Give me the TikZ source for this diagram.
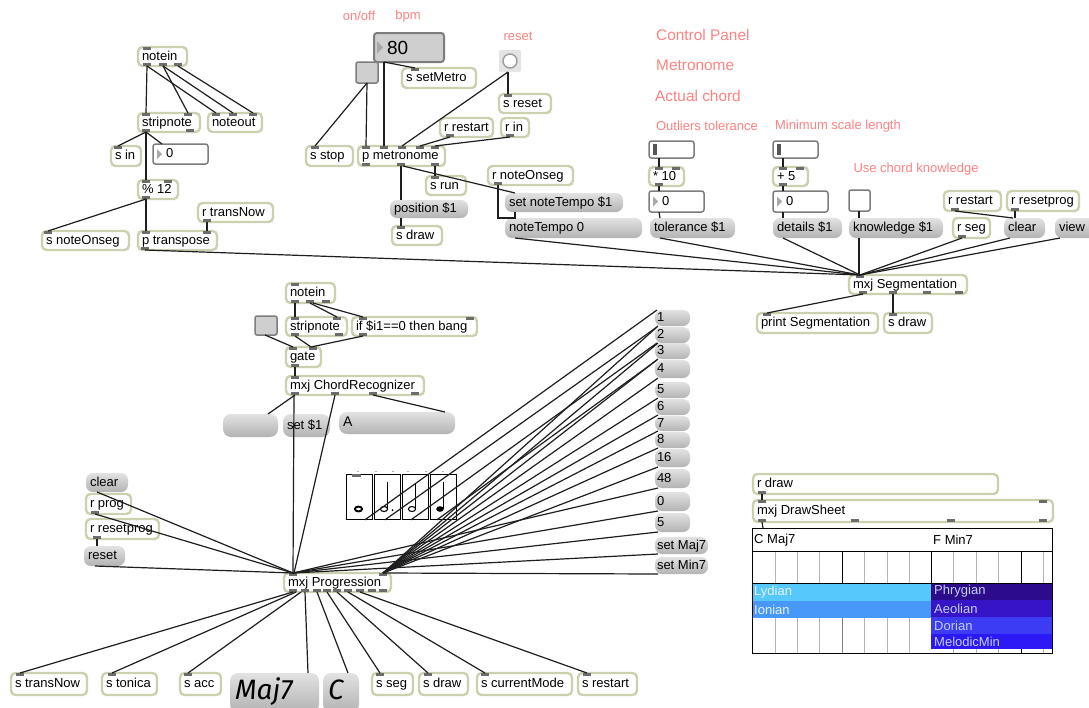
\documentclass[tikz,border=0pt]{standalone}
\usepackage{fontspec}
\setmainfont{Liberation Sans}
\newfontfamily\bigfont{Fira Sans}
\usetikzlibrary{calc}

\definecolor{objc}{HTML}{C9D1AF}
\definecolor{msgtop}{HTML}{E2E2E2}
\definecolor{msgbot}{HTML}{B3B3B3}
\definecolor{numc}{HTML}{7D7D7D}
\definecolor{togc}{HTML}{CFCFCF}
\definecolor{bangc}{HTML}{E4E4E4}
\definecolor{wirec}{HTML}{1E1E1E}
\definecolor{tabc}{HTML}{6C6C6C}
\definecolor{notec}{HTML}{FF8282}
\definecolor{tric}{HTML}{A8A8A8}
\definecolor{gridc}{HTML}{B4B4B4}
\definecolor{lyd}{HTML}{56C8FC}
\definecolor{ion}{HTML}{4898FA}
\definecolor{phr}{HTML}{2D0C8C}
\definecolor{aeo}{HTML}{3714C8}
\definecolor{dor}{HTML}{3C3CF5}
\definecolor{mel}{HTML}{2D19F5}
\definecolor{bandtxt}{HTML}{E6F2FF}

\tikzset{
  base/.style={inner xsep=4pt, inner ysep=0pt, outer sep=0pt,
    text height=9.5pt, text depth=2.5pt, font=\fontsize{13}{15}\selectfont},
  obj/.style={base, draw=objc, line width=2.4pt, fill=white, rounded corners=4.5pt},
  msg/.style={base, top color=msgtop, bottom color=msgbot, rounded corners=7pt},
  numb/.style={base, draw=numc, line width=1.5pt, fill=white, rounded corners=2.5pt},
  tog/.style={base, draw=numc, line width=1.5pt, fill=togc, rounded corners=2pt},
  bangbox/.style={base, fill=bangc, rounded corners=2pt},
  pict/.style={draw=black, line width=0.8pt, fill=white, inner sep=0pt,
    minimum width=26pt, minimum height=45pt, anchor=north west},
  wire/.style={draw=wirec, line width=1.2pt},
  note/.style={font=\fontsize{13}{15}\selectfont, text=notec, inner sep=0pt},
  bignote/.style={font=\fontsize{15.4}{17}\selectfont, text=notec, inner sep=0pt, anchor=west},
  band/.style={font=\fontsize{13}{15}\selectfont, inner sep=0pt, anchor=west},
}

% box: style, name, x1, y1, x2, y2, text
\newcommand\mxbox[7]{%
  \pgfmathsetmacro\mxw{#5-#3}%
  \pgfmathsetmacro\mxh{#6-#4}%
  \pgfmathsetmacro\mxt{#5-#3-8}%
  \node[#1, anchor=north west, minimum width=\mxw pt, minimum height=\mxh pt]
    (#2) at (#3,#4) {\makebox[\mxt pt][l]{#7}};}
% patch cord from an outlet to an inlet
\newcommand\wire[4]{\draw[wire] ($(#1.south west)+(#2,0)$) -- ($(#3.north west)+(#4,0)$);}
% inlet and outlet tabs
\newcommand\inports[2]{\foreach \d in {#2}{\fill[tabc] ($(#1.north west)+(\d-4,0)$) rectangle ++(8,3);}}
\newcommand\outports[2]{\foreach \d in {#2}{\fill[tabc] ($(#1.south west)+(\d-4,-3)$) rectangle ++(8,3);}}
% number box arrow
\newcommand\numtri[3]{\fill[tric] ($(#1.west)+(#2,-#3)$) -- ($(#1.west)+(#2,#3)$) -- ($(#1.west)+(#2+#3,0)$) -- cycle;}

\begin{document}
\begin{tikzpicture}[x=1pt,y=-1pt]
\useasboundingbox (0,0) rectangle (1089,707);
\clip (0,0) rectangle (1089,707);
\fill[white] (0,0) rectangle (1089,707);

% ---------- comments ----------
\node[note] (lonoff) at (359,16) {on/off};
\node[note] (lbpm) at (408,16) {bpm};
\node[note] (lreset) at (518,36) {reset};
\node[bignote] (lcp) at (656,35) {Control Panel};
\node[bignote] (lmet) at (656,65) {Metronome};
\node[bignote] (lact) at (655,96) {Actual chord};
\node[note] (lout) at (707,126) {Outliers tolerance};
\node[note] (lmin) at (838,126) {Minimum scale length};
\node[note] (luse) at (916,169) {Use chord knowledge};

% ---------- note input ----------
\mxbox{obj}{noteinA}{138}{47}{187}{66}{notein}
\mxbox{obj}{stripA}{138}{113}{200}{132}{stripnote}
\mxbox{obj}{noteout}{208}{113}{262}{132}{noteout}
\mxbox{obj}{sin}{111}{146}{141}{166}{s in}
\mxbox{numb}{numA}{153}{144}{208}{164}{\hspace{9pt}0}
\numtri{numA}{4}{5}
\mxbox{obj}{modtw}{138}{180}{178}{199}{\% 12}
\mxbox{obj}{rtransNow}{198}{203}{273}{222}{r transNow}
\mxbox{obj}{snoteOnseg}{42}{231}{129}{250}{s noteOnseg}
\mxbox{obj}{ptranspose}{138}{231}{217}{250}{p transpose}

% ---------- metronome ----------
\mxbox{numb, fill=togc, line width=2pt, rounded corners=3pt, font=\fontsize{19}{21}\selectfont, text height=14pt, text depth=1pt}{numbpm}{374}{33}{444}{62}{\hspace{9pt}80}
\numtri{numbpm}{3}{6}
\mxbox{tog}{togmet}{356}{62}{378}{83}{}
\mxbox{obj}{ssetMetro}{402}{68}{476}{88}{s setMetro}
\mxbox{bangbox}{bangreset}{499}{50}{521}{72}{}
\draw[draw=gray!75, line width=1.5pt, fill=white] (bangreset.center) circle (7);
\mxbox{obj}{sreset}{499}{94}{551}{113}{s reset}
\mxbox{obj}{rrestartA}{440}{118}{493}{137}{r restart}
\mxbox{obj}{rin}{501}{118}{529}{137}{r in}
\mxbox{obj}{sstop}{306}{146}{353}{166}{s stop}
\mxbox{obj}{pmetro}{358}{146}{445}{166}{p metronome}
\mxbox{obj}{srun}{426}{176}{466}{195}{s run}
\mxbox{obj}{rnoteOnseg}{488}{166}{573}{185}{r noteOnseg}
\mxbox{msg}{setnoteTempo}{505}{193}{623}{212}{set noteTempo \$1}
\mxbox{msg}{noteTempo}{505}{218}{642}{238}{noteTempo 0}
\mxbox{msg}{position}{390}{200}{468}{218}{position \$1}
\mxbox{obj}{sdrawA}{392}{226}{442}{245}{s draw}

% ---------- segmentation controls ----------
\mxbox{numb}{slidA}{649}{141}{694}{158}{}
\fill[tabc!80!black] ($(slidA.north west)+(4,3)$) rectangle ($(slidA.south west)+(8,-3)$);
\mxbox{obj}{multten}{649}{167}{684}{186}{* 10}
\mxbox{numb}{numtol}{649}{191}{704}{212}{\hspace{9pt}0}
\numtri{numtol}{4}{5}
\mxbox{msg}{tolerance}{650}{218}{735}{238}{tolerance \$1}
\mxbox{numb}{slidB}{773}{141}{818}{158}{}
\fill[tabc!80!black] ($(slidB.north west)+(4,3)$) rectangle ($(slidB.south west)+(8,-3)$);
\mxbox{obj}{plusfive}{773}{167}{808}{186}{+ 5}
\mxbox{numb}{numdet}{773}{191}{828}{212}{\hspace{9pt}0}
\numtri{numdet}{4}{5}
\mxbox{msg}{details}{773}{218}{842}{238}{details \$1}
\mxbox{tog, fill=white}{togknow}{849}{190}{870}{211}{}
\mxbox{msg}{knowledge}{849}{218}{943}{238}{knowledge \$1}
\mxbox{obj}{rrestartB}{944}{191}{1001}{211}{r restart}
\mxbox{obj}{rresetprogA}{1007}{191}{1079}{211}{r resetprog}
\mxbox{obj}{rseg}{953}{218}{990}{238}{r seg}
\mxbox{msg}{clearA}{1004}{218}{1045}{238}{clear}
\mxbox{msg}{view}{1055}{218}{1100}{238}{view}
\mxbox{obj}{mxjSeg}{849}{275}{967}{294}{mxj Segmentation}
\mxbox{obj}{printSeg}{757}{313}{878}{333}{print Segmentation}
\mxbox{obj}{sdrawB}{884}{313}{932}{333}{s draw}

% ---------- chord recognition ----------
\mxbox{obj}{noteinB}{286}{283}{335}{303}{notein}
\mxbox{tog}{toggate}{255}{316}{277}{335}{}
\mxbox{obj}{stripB}{286}{317}{347}{336}{stripnote}
\mxbox{obj}{ifbang}{352}{317}{477}{336}{if \$i1==0 then bang}
\mxbox{obj}{gate}{286}{347}{321}{367}{gate}
\mxbox{obj}{chordrec}{286}{376}{424}{395}{mxj ChordRecognizer}
\mxbox{msg, rounded corners=8pt}{emptymsg}{223}{414}{278}{437}{}
\mxbox{msg, rounded corners=8pt}{setone}{283}{414}{330}{437}{set \$1}
\mxbox{msg, rounded corners=8pt, font=\fontsize{14}{16}\selectfont}{amsg}{339}{412}{455}{434}{A}

% ---------- note value pictures ----------
\node[pict] (pictA) at (346,474) {};
\node[pict] (pictB) at (374,474) {};
\node[pict] (pictC) at (402,474) {};
\node[pict] (pictD) at (430,474) {};
\fill[tabc] (352,474) rectangle (361,477);
\foreach \tx in {357,375,392,407,425,442} {\fill[gray!60] (\tx,471) rectangle ++(2,1);}
\draw[line width=1.9pt] (358.5,509) ellipse [x radius=3.6, y radius=2.4];
\draw[line width=1.1pt] (384,509) ellipse [x radius=3.6, y radius=2.5];
\draw[line width=0.8pt] (387.8,509) -- (387.8,482);
\fill (392.5,510) circle (1);
\draw[line width=1.1pt] (412,509) ellipse [x radius=3.6, y radius=2.5];
\draw[line width=0.8pt] (415.8,509) -- (415.8,483);
\fill (440,509) ellipse [x radius=3.8, y radius=2.8];
\draw[line width=0.8pt] (443.6,509) -- (443.6,482);

% ---------- progression inputs ----------
\mxbox{msg}{clearB}{86}{473}{128}{492}{clear}
\mxbox{obj}{rprog}{86}{494}{131}{514}{r prog}
\mxbox{obj}{rresetprogB}{86}{519}{159}{539}{r resetprog}
\mxbox{msg}{resetmsg}{84}{546}{125}{566}{reset}

\mxbox{msg}{mone}{655}{310}{690}{326}{\hspace{-2pt}1}
\mxbox{msg}{mtwo}{655}{327}{690}{343}{\hspace{-2pt}2}
\mxbox{msg}{mthree}{655}{343}{690}{359}{\hspace{-2pt}3}
\mxbox{msg}{mfour}{655}{360}{690}{378}{\hspace{-2pt}4}
\mxbox{msg}{mfive}{655}{382}{690}{398}{\hspace{-2pt}5}
\mxbox{msg}{msix}{655}{399}{690}{415}{\hspace{-2pt}6}
\mxbox{msg}{mseven}{655}{416}{690}{431}{\hspace{-2pt}7}
\mxbox{msg}{meight}{655}{432}{690}{448}{\hspace{-2pt}8}
\mxbox{msg}{msixteen}{655}{449}{690}{467}{\hspace{-2pt}16}
\mxbox{msg}{mfortyeight}{655}{469}{690}{488}{\hspace{-2pt}48}
\mxbox{msg}{mzero}{655}{492}{690}{511}{\hspace{-2pt}0}
\mxbox{msg}{mfiveb}{655}{513}{690}{532}{\hspace{-2pt}5}
\mxbox{msg}{setmaj}{655}{537}{708}{554}{\hspace{-2pt}set Maj7}
\mxbox{msg}{setmin}{655}{557}{708}{574}{\hspace{-2pt}set Min7}

\mxbox{obj}{mxjProg}{284}{573}{391}{592}{mxj Progression}

% ---------- progression outputs ----------
\mxbox{obj}{stransNow}{11}{673}{87}{695}{s transNow}
\mxbox{obj}{stonica}{102}{673}{157}{695}{s tonica}
\mxbox{obj}{sacc}{180}{673}{221}{695}{s acc}
\mxbox{msg, rounded corners=8pt, font={\bigfont\itshape\fontsize{28}{30}\selectfont}, text height=20pt, text depth=6pt, inner xsep=5pt}{majbox}{230}{673}{317}{712}{Maj7}
\mxbox{msg, rounded corners=8pt, font={\bigfont\itshape\fontsize{28}{30}\selectfont}, text height=20pt, text depth=6pt, inner xsep=5pt}{cbox}{323}{673}{357}{712}{C}
\mxbox{obj}{sseg}{372}{673}{413}{695}{s seg}
\mxbox{obj}{sdrawC}{419}{673}{468}{695}{s draw}
\mxbox{obj}{scurrentMode}{477}{673}{572}{695}{s currentMode}
\mxbox{obj}{srestart}{578}{673}{637}{695}{s restart}

% ---------- sheet drawing ----------
\mxbox{obj}{rdraw}{753}{474}{998}{494}{r draw}
\mxbox{obj}{drawsheet}{753}{500}{1053}{522}{mxj DrawSheet}
\node[draw=black, line width=0.9pt, fill=white, inner sep=0pt, anchor=north west,
      minimum width=300pt, minimum height=125pt] (sheet) at (752,528) {};
\fill[lyd] (752,583) rectangle (931,601);
\fill[ion] (752,601) rectangle (931,618);
\fill[phr] (931,583) rectangle (1052,600);
\fill[aeo] (931,600) rectangle (1052,617);
\fill[dor] (931,617) rectangle (1052,634);
\fill[mel] (931,634) rectangle (1052,649);
\foreach \gx in {775,797,819,864,887,909,953,976,998,1043} {\draw[gridc, line width=1pt] (\gx,551) -- (\gx,583);}
\foreach \gx in {842,931,1021} {\draw[black, line width=1pt] (\gx,551) -- (\gx,583);}
\foreach \gx in {775,797,819,864,887,909} {\draw[gridc, line width=1pt] (\gx,618) -- (\gx,653);}
\draw[gray, line width=1pt] (842,618) -- (842,653);
\foreach \gx in {953,976,998,1043} {\draw[gridc, line width=1pt] (\gx,649) -- (\gx,653);}
\draw[black, line width=1pt] (1021,649) -- (1021,653);
\draw[black, line width=0.9pt] (752,551) -- (1052,551);
\draw[black, line width=0.9pt] (752,583) -- (1052,583);
\draw[black, line width=0.9pt] (752,528) rectangle (1052,653);
\node[band] (chordone) at (754,540) {C Maj7};
\node[band] (chordtwo) at (933,540) {F Min7};
\node[band, text=bandtxt] (blyd) at (754,592) {Lydian};
\node[band, text=bandtxt] (bion) at (754,609.5) {Ionian};
\node[band, text=bandtxt!85!blue] (bphr) at (934,591.5) {Phrygian};
\node[band, text=bandtxt!85!blue] (baeo) at (934,608.5) {Aeolian};
\node[band, text=bandtxt!85!blue] (bdor) at (934,625.5) {Dorian};
\node[band, text=bandtxt!85!blue] (bmel) at (934,641.5) {MelodicMin};

% ---------- inlets and outlets ----------
\inports{noteinA}{9}\outports{noteinA}{9,25,40}
\inports{stripA}{8,50}\outports{stripA}{8,52}
\inports{noteout}{8,25,45}
\inports{sin}{7}
\inports{modtw}{8,30}\outports{modtw}{8}
\outports{rtransNow}{9}
\inports{snoteOnseg}{6}
\inports{ptranspose}{8,69}\outports{ptranspose}{7}
\inports{sstop}{9}
\inports{ssetMetro}{13}
\inports{sreset}{9}
\outports{rrestartA}{10}
\outports{rin}{9}
\inports{pmetro}{8,26,44,62,77}\outports{pmetro}{8,43,77}
\inports{srun}{9}
\outports{rnoteOnseg}{10}
\inports{sdrawA}{9}
\inports{multten}{10,27}\outports{multten}{10}
\inports{plusfive}{10,27}\outports{plusfive}{10}
\outports{rrestartB}{11}
\outports{rresetprogA}{8}
\outports{rseg}{9}
\inports{mxjSeg}{11}\outports{mxjSeg}{14,44,78,110}
\inports{printSeg}{10}
\inports{sdrawB}{9}
\inports{noteinB}{9}\outports{noteinB}{9,24,40}
\inports{stripB}{9,51}\outports{stripB}{9,53}
\inports{ifbang}{11,118}\outports{ifbang}{11}
\inports{gate}{7,27}\outports{gate}{9}
\inports{chordrec}{9}\outports{chordrec}{9,49,87,129}
\outports{rprog}{9}
\outports{rresetprogB}{11}
\inports{mxjProg}{9,99}\outports{mxjProg}{9,21,33,43,53,64,76,88,99}
\inports{stransNow}{9}\inports{stonica}{10}\inports{sacc}{8}
\inports{sseg}{8}\inports{sdrawC}{9}\inports{scurrentMode}{8}\inports{srestart}{9}
\outports{rdraw}{9}
\inports{drawsheet}{9,290}\outports{drawsheet}{9,102,198,290}

% ---------- patch cords ----------
\wire{noteinA}{9}{stripA}{8}
\wire{noteinA}{9}{noteout}{8}
\wire{noteinA}{25}{stripA}{50}
\wire{noteinA}{25}{noteout}{25}
\wire{noteinA}{40}{noteout}{45}
\wire{stripA}{8}{sin}{7}
\wire{stripA}{8}{numA}{9}
\wire{stripA}{8}{modtw}{8}
\wire{modtw}{8}{snoteOnseg}{6}
\wire{modtw}{8}{ptranspose}{8}
\wire{rtransNow}{9}{ptranspose}{69}
\wire{ptranspose}{7}{mxjSeg}{11}

\wire{numbpm}{10}{pmetro}{26}
\wire{numbpm}{10}{ssetMetro}{13}
\wire{togmet}{11}{sstop}{9}
\wire{togmet}{11}{pmetro}{8}
\wire{bangreset}{9}{pmetro}{44}
\wire{bangreset}{9}{sreset}{9}
\wire{rrestartA}{10}{pmetro}{62}
\wire{rin}{9}{pmetro}{77}
\wire{pmetro}{43}{position}{11}
\wire{pmetro}{45}{setnoteTempo}{10}
\wire{pmetro}{77}{srun}{9}
\wire{position}{11}{sdrawA}{9}
\draw[wire] ($(rnoteOnseg.south west)+(10,0)$) -- ++(0,33) -| ($(setnoteTempo.south west)+(10,0)$);

\wire{noteTempo}{10}{mxjSeg}{11}
\wire{tolerance}{10}{mxjSeg}{11}
\wire{details}{10}{mxjSeg}{11}
\wire{knowledge}{10}{mxjSeg}{10}
\wire{rseg}{9}{mxjSeg}{11}
\wire{clearA}{6}{mxjSeg}{11}
\wire{view}{5}{mxjSeg}{11}
\wire{rrestartB}{11}{clearA}{9}
\wire{rresetprogA}{8}{clearA}{11}
\wire{slidA}{10}{multten}{10}
\wire{multten}{10}{numtol}{10}
\wire{numtol}{10}{tolerance}{10}
\wire{slidB}{10}{plusfive}{10}
\wire{plusfive}{10}{numdet}{10}
\wire{numdet}{10}{details}{10}
\wire{togknow}{10}{knowledge}{10}
\wire{mxjSeg}{14}{printSeg}{10}
\wire{mxjSeg}{44}{sdrawB}{9}

\wire{noteinB}{9}{stripB}{9}
\wire{noteinB}{24}{stripB}{51}
\wire{noteinB}{27}{ifbang}{11}
\wire{toggate}{10}{gate}{7}
\wire{stripB}{9}{gate}{25}
\wire{ifbang}{11}{gate}{25}
\wire{gate}{9}{chordrec}{9}
\wire{chordrec}{9}{emptymsg}{45}
\wire{chordrec}{8}{mxjProg}{9}
\wire{chordrec}{49}{mxjProg}{10}
\wire{chordrec}{87}{amsg}{106}

\wire{clearB}{11}{mxjProg}{9}
\wire{rprog}{9}{mxjProg}{9}
\wire{rresetprogB}{11}{resetmsg}{13}
\wire{resetmsg}{11}{mxjProg}{9}

\wire{pictA}{19}{mone}{2}
\wire{pictB}{11}{mtwo}{2}
\wire{pictC}{9}{mthree}{2}
\wire{pictD}{7}{mfour}{2}
\foreach \m in {mone,mtwo,mthree,mfour,mfive,msix,mseven,meight,msixteen,setmin}
  {\wire{\m}{3}{mxjProg}{99}}
\foreach \m in {mfortyeight,mzero,mfiveb,setmaj}
  {\wire{\m}{3}{mxjProg}{9}}

\wire{mxjProg}{9}{stransNow}{9}
\wire{mxjProg}{12}{stonica}{10}
\wire{mxjProg}{17}{sacc}{8}
\wire{mxjProg}{21}{majbox}{78}
\wire{mxjProg}{33}{cbox}{25}
\wire{mxjProg}{43}{sseg}{8}
\wire{mxjProg}{53}{sdrawC}{9}
\wire{mxjProg}{64}{scurrentMode}{8}
\wire{mxjProg}{76}{srestart}{9}

\wire{rdraw}{9}{drawsheet}{9}
\wire{drawsheet}{9}{sheet}{11}
\end{tikzpicture}
\end{document}
